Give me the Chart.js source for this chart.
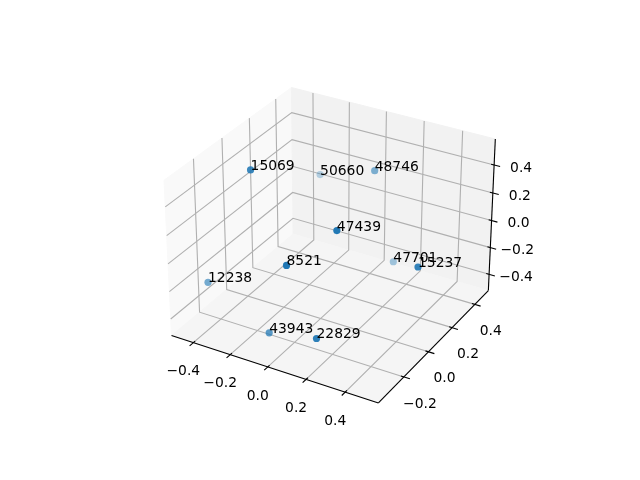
<!DOCTYPE html>
<html>
<head>
<meta charset="utf-8">
<script src="https://cdn.jsdelivr.net/npm/chart.js@4"></script>
<style>html,body{margin:0;padding:0;background:#fff}canvas{display:block}</style>
</head>
<body>
<canvas id="c" width="640" height="480"></canvas>
<script>
const pointLabels = ['15069','50660','48746','47439','47701','15237','8521','12238','43943','22829'];
const xValues = [-0.266,-0.340,0.035,0.201,0.129,0.503,0.056,-0.478,-0.095,0.215];
const yValues = [-0.136,0.491,0.377,-0.169,0.398,0.000,-0.330,-0.185,-0.256,-0.342];
const zValues = [0.550,0.026,0.275,0.333,-0.379,0.062,0.165,-0.295,-0.444,-0.273];
const xTicks = [-0.4,-0.2,0,0.2,0.4];
const yTicks = [-0.2,0,0.2,0.4];
const zTicks = [-0.4,-0.2,0,0.2,0.4];
const xLim = [-0.52,0.567];
const yLim = [-0.399,0.523];
const zLim = [-0.523,0.583];

const FONT = '13.89px "DejaVu Sans"';
const K = 1.8294640721620434*25/24/Math.sqrt(41);
const box = [4*K,4*K,3*K];
const xP = xLim, yP = yLim, zP = zLim;
const U=[Math.sqrt(3)/2,0.5,0], V=[-0.25,Math.sqrt(3)/4,Math.sqrt(3)/2], W=[Math.sqrt(3)/4,-0.75,0.5];
const dot=(a,b)=>a[0]*b[0]+a[1]*b[1]+a[2]*b[2];
function rel(x,y,z){return [
  ((x-xLim[0])/(xLim[1]-xLim[0])-0.5)*box[0],
  ((y-yLim[0])/(yLim[1]-yLim[0])-0.5)*box[1],
  ((z-zLim[0])/(zLim[1]-zLim[0])-0.5)*box[2]];}
function project(x,y,z){const p=rel(x,y,z);const w=10-dot(p,W);
  return {x:dot(p,U)/w,y:dot(p,V)/w};}
const depth=(x,y,z)=>dot(rel(x,y,z),W);

const depths = xValues.map((x,i)=>depth(x,yValues[i],zValues[i]));
const dMin=Math.min(...depths), dMax=Math.max(...depths);
const colors = depths.map(d=>`rgba(31,119,180,${(0.3+0.7*(d-dMin)/(dMax-dMin)).toFixed(3)})`);
const points = xValues.map((x,i)=>project(x,yValues[i],zValues[i]));

const scene = {
  id:'scene',
  beforeDatasetsDraw(chart){
    const c=chart.ctx, sx=chart.scales.x, sy=chart.scales.y;
    const P=(x,y,z)=>{const q=project(x,y,z);return [sx.getPixelForValue(q.x),sy.getPixelForValue(q.y)];};
    const poly=(pts,fill)=>{c.beginPath();pts.forEach((p,i)=>{const q=P(...p);i?c.lineTo(q[0],q[1]):c.moveTo(q[0],q[1]);});c.closePath();c.fillStyle=fill;c.fill();c.strokeStyle=fill;c.lineWidth=1;c.stroke();};
    const line=(pts,col,lw)=>{c.beginPath();pts.forEach((p,i)=>{const q=P(...p);i?c.lineTo(q[0],q[1]):c.moveTo(q[0],q[1]);});c.strokeStyle=col;c.lineWidth=lw;c.stroke();};
    c.save();
    poly([[xP[0],yP[0],zP[0]],[xP[0],yP[1],zP[0]],[xP[0],yP[1],zP[1]],[xP[0],yP[0],zP[1]]],'#f9f9f9');
    poly([[xP[0],yP[1],zP[0]],[xP[1],yP[1],zP[0]],[xP[1],yP[1],zP[1]],[xP[0],yP[1],zP[1]]],'#f2f2f2');
    poly([[xP[0],yP[0],zP[0]],[xP[1],yP[0],zP[0]],[xP[1],yP[1],zP[0]],[xP[0],yP[1],zP[0]]],'#f5f5f5');
    const G='#b0b0b0', LW=1.11;
    xTicks.forEach(t=>line([[t,yP[0],zP[0]],[t,yP[1],zP[0]],[t,yP[1],zP[1]]],G,LW));
    yTicks.forEach(t=>line([[xP[1],t,zP[0]],[xP[0],t,zP[0]],[xP[0],t,zP[1]]],G,LW));
    zTicks.forEach(t=>line([[xP[0],yP[0],t],[xP[0],yP[1],t],[xP[1],yP[1],t]],G,LW));
    line([[xP[0],yP[0],zP[0]],[xP[1],yP[0],zP[0]]],'#000',LW);
    line([[xP[1],yP[0],zP[0]],[xP[1],yP[1],zP[0]]],'#000',LW);
    line([[xP[1],yP[1],zP[0]],[xP[1],yP[1],zP[1]]],'#000',LW);
    const ySpan=yP[1]-yP[0], xSpan=xP[1]-xP[0];
    const OUT=0.028, IN=0.014;
    xTicks.forEach(t=>line([[t,yP[0]-OUT*ySpan,zP[0]],[t,yP[0]+IN*ySpan,zP[0]]],'#000',LW));
    yTicks.forEach(t=>line([[xP[1]+OUT*xSpan,t,zP[0]],[xP[1]-IN*xSpan,t,zP[0]]],'#000',LW));
    zTicks.forEach(t=>line([[xP[1]+OUT*xSpan,yP[1],t],[xP[1]-IN*xSpan,yP[1],t]],'#000',LW));
    c.fillStyle='#000';c.font=FONT;c.textAlign='center';c.textBaseline='middle';
    const fmt=t=>(t<0?'\u2212':'')+Math.abs(t).toFixed(1);
    const lab=(t,q,dx,dy)=>c.fillText(fmt(t),q[0]+dx,q[1]+dy);
    xTicks.forEach(t=>lab(t,P(t,yP[0],zP[0]),-10,29));
    yTicks.forEach(t=>lab(t,P(xP[1],t,zP[0]),16,27));
    zTicks.forEach(t=>lab(t,P(xP[1],yP[1],t),27,3));
    c.restore();
  },
  afterDatasetsDraw(chart){
    const c=chart.ctx, sx=chart.scales.x, sy=chart.scales.y;
    c.save();c.fillStyle='#000';c.font=FONT;c.textAlign='left';c.textBaseline='alphabetic';
    pointLabels.forEach((s,i)=>c.fillText(s,sx.getPixelForValue(points[i].x),sy.getPixelForValue(points[i].y)));
    c.restore();
  }
};

const S=1.008*369.6/0.185;
new Chart(document.getElementById('c'),{
  type:'scatter',
  data:{datasets:[{data:points,backgroundColor:colors,borderWidth:0,pointRadius:3.6,pointHoverRadius:3.6}]},
  options:{
    responsive:false,animation:false,
    layout:{padding:0},
    plugins:{legend:{display:false},tooltip:{enabled:false}},
    scales:{
      x:{display:false,min:-333/S,max:307/S},
      y:{display:false,min:(237.6-480)/S,max:237.6/S}
    }
  },
  plugins:[scene]
});
</script>
</body>
</html>
